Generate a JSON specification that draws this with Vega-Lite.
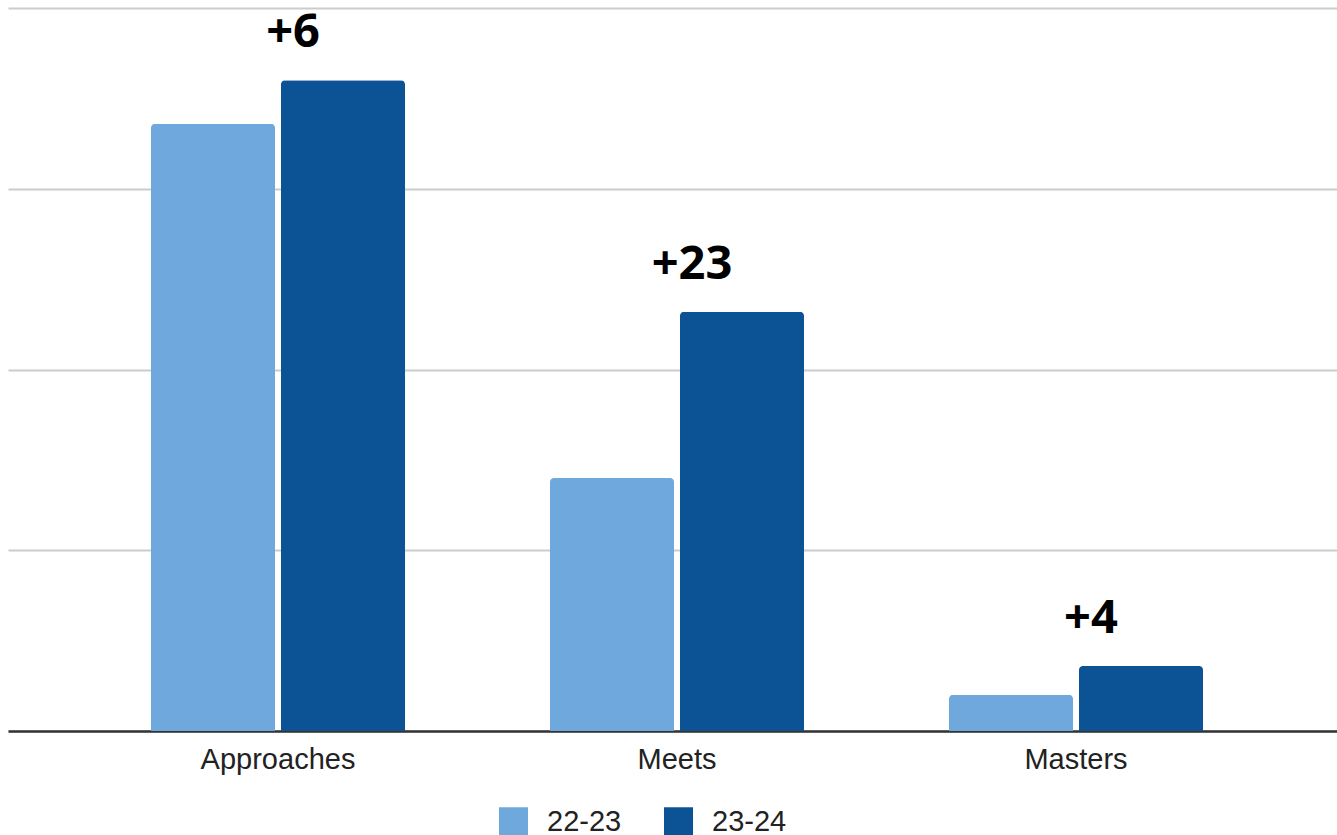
{
  "$schema": "https://vega.github.io/schema/vega-lite/v6.json",
  "width": 1329,
  "height": 723,
  "autosize": {"type": "none"},
  "padding": {"left": 8, "top": 8, "right": 0, "bottom": 104},
  "background": "#ffffff",
  "config": {
    "view": {"stroke": null},
    "font": "Liberation Sans"
  },
  "data": {
    "values": [
      {"category": "Approaches", "year": "22-23", "value": 84, "change": ""},
      {"category": "Approaches", "year": "23-24", "value": 90, "change": "+6"},
      {"category": "Meets", "year": "22-23", "value": 35, "change": ""},
      {"category": "Meets", "year": "23-24", "value": 58, "change": "+23"},
      {"category": "Masters", "year": "22-23", "value": 5, "change": ""},
      {"category": "Masters", "year": "23-24", "value": 9, "change": "+4"}
    ]
  },
  "encoding": {
    "x": {
      "field": "category",
      "type": "nominal",
      "sort": ["Approaches", "Meets", "Masters"],
      "scale": {"paddingInner": 0.3634, "paddingOuter": 0.3584, "range": [0, 1338]},
      "axis": {
        "title": null,
        "labelAngle": 0,
        "labelFont": "Liberation Sans",
        "labelFontSize": 29,
        "labelColor": "#222222",
        "labelPadding": 14,
        "ticks": false,
        "domain": true,
        "domainColor": "#333333",
        "domainWidth": 2.5,
        "grid": false
      }
    },
    "y": {
      "field": "value",
      "type": "quantitative",
      "scale": {"domain": [0, 100], "nice": false},
      "axis": {
        "title": null,
        "values": [0, 25, 50, 75, 100],
        "labels": false,
        "ticks": false,
        "domain": false,
        "grid": true,
        "gridColor": "#cccccc",
        "gridWidth": 2
      }
    }
  },
  "layer": [
    {
      "mark": {"type": "bar", "cornerRadiusTopLeft": 4, "cornerRadiusTopRight": 4},
      "encoding": {
        "xOffset": {
          "field": "year",
          "type": "nominal",
          "scale": {"paddingInner": 0.046, "paddingOuter": 0}
        },
        "color": {
          "field": "year",
          "type": "nominal",
          "scale": {"domain": ["22-23", "23-24"], "range": ["#6fa8dc", "#0b5394"]},
          "legend": {
            "title": null,
            "orient": "none",
            "direction": "horizontal",
            "legendX": 491,
            "legendY": 799,
            "padding": 0,
            "symbolType": "square",
            "symbolSize": 840,
            "symbolStrokeWidth": 0,
            "symbolOpacity": 1,
            "labelFont": "Liberation Sans",
            "labelFontSize": 29,
            "labelColor": "#222222",
            "labelOffset": 19,
            "columnPadding": 42
          }
        }
      }
    },
    {
      "transform": [{"filter": "datum.year == '23-24'"}],
      "mark": {
        "type": "text",
        "font": "Open Sans",
        "fontWeight": "bold",
        "fontSize": 47,
        "color": "#000000",
        "baseline": "middle",
        "align": "center",
        "dx": 15,
        "dy": -47
      },
      "encoding": {
        "text": {"field": "change"}
      }
    }
  ]
}
